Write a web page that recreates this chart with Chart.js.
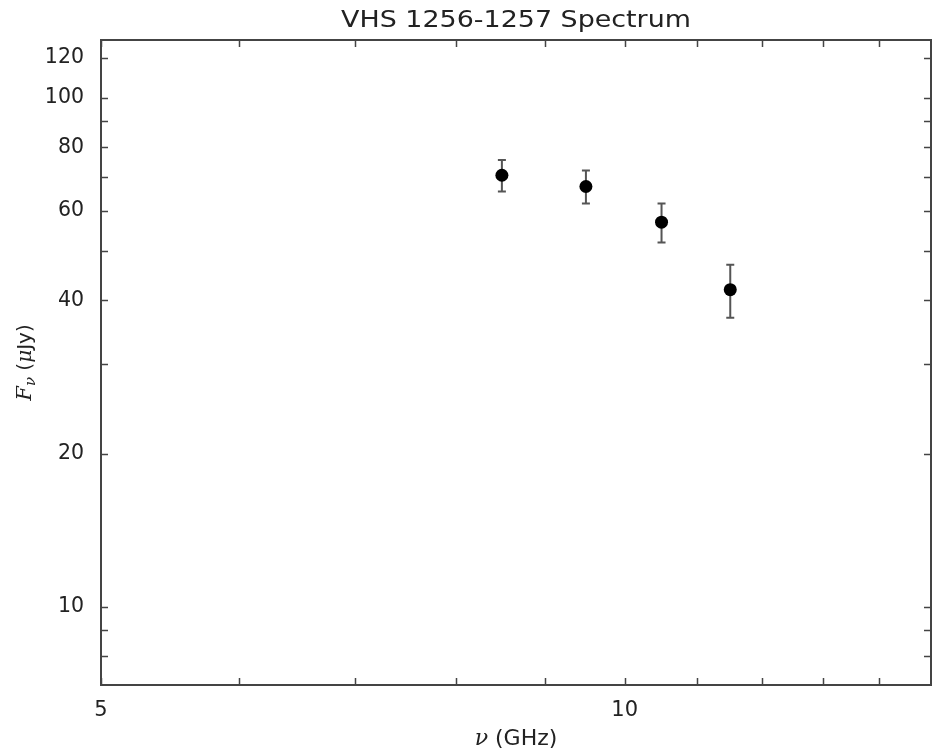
<!DOCTYPE html>
<html><head><meta charset="utf-8">
<script src="https://cdn.jsdelivr.net/npm/chart.js@4"></script>
<style>html,body{margin:0;padding:0;background:#fff;overflow:hidden}#wrap{width:932px;height:749px}</style>
</head><body><div id="wrap"><canvas id="c" width="932" height="749"></canvas></div>
<script>
// ---- data ----
const freqGHz = [8.5, 9.5, 10.5, 11.5];
const fluxMicroJy = [70.5, 67, 57, 42];
const fluxErr = [5, 5, 5, 5];
const xTickValues = [5, 6, 7, 8, 9, 10, 11, 12, 13, 14];
const xTickLabels = ['5', '', '', '', '', '10', '', '', '', ''];
const yTickValues = [8, 9, 10, 20, 30, 40, 50, 60, 70, 80, 90, 100, 120];
const yTickLabels = ['', '', '10', '20', '', '40', '', '60', '', '80', '', '100', '120'];
const titleText = 'VHS 1256-1257 Spectrum';

const TXT = '#222';
const AX = '#444';
const SANS = 'DejaVu Sans';

const framePlugin = {
  id: 'frame',
  beforeDatasetsDraw(chart) {
    const {ctx} = chart;
    const xs = chart.scales.x, ys = chart.scales.y;
    ctx.save();
    ctx.strokeStyle = '#555';
    ctx.lineWidth = 2;
    freqGHz.forEach((f, i) => {
      const px = xs.getPixelForValue(f);
      const top = ys.getPixelForValue(fluxMicroJy[i] + fluxErr[i]);
      const bot = ys.getPixelForValue(fluxMicroJy[i] - fluxErr[i]);
      ctx.beginPath();
      ctx.moveTo(px, top); ctx.lineTo(px, bot);
      ctx.moveTo(px - 4, top); ctx.lineTo(px + 4, top);
      ctx.moveTo(px - 4, bot); ctx.lineTo(px + 4, bot);
      ctx.stroke();
    });
    ctx.restore();
  },
  afterDraw(chart) {
    const {ctx, chartArea: a} = chart;
    const xs = chart.scales.x, ys = chart.scales.y;
    const L = 7;
    ctx.save();
    ctx.strokeStyle = AX;
    ctx.lineWidth = 1.5;
    ctx.beginPath();
    xTickValues.forEach(v => {
      const px = Math.round(xs.getPixelForValue(v)) + 0.5;
      ctx.moveTo(px, a.bottom); ctx.lineTo(px, a.bottom - L);
      ctx.moveTo(px, a.top); ctx.lineTo(px, a.top + L);
    });
    yTickValues.forEach(v => {
      const py = Math.round(ys.getPixelForValue(v)) + 0.5;
      ctx.moveTo(a.left, py); ctx.lineTo(a.left + L, py);
      ctx.moveTo(a.right, py); ctx.lineTo(a.right - L, py);
    });
    ctx.stroke();
    ctx.lineWidth = 2;
    ctx.strokeRect(a.left, a.top, a.right - a.left, a.bottom - a.top);

    const cx = (a.left + a.right) / 2;
    ctx.fillStyle = TXT;
    ctx.textBaseline = 'middle';

    // title (slightly wide lettering as in the reference)
    ctx.save();
    ctx.font = '23px ' + SANS;
    ctx.textAlign = 'center';
    ctx.translate(cx, 21);
    ctx.scale(1.17, 1);
    ctx.fillText(titleText, 0, 0);
    ctx.restore();

    // x axis title
    const f1 = 'italic 22px "DejaVu Serif"', f2 = '22px ' + SANS;
    ctx.font = f1; const w1 = ctx.measureText('\u03BD').width;
    ctx.font = f2; const w2 = ctx.measureText(' (GHz)').width;
    let x0 = cx - (w1 + w2) / 2;
    ctx.textAlign = 'left';
    ctx.font = f1; ctx.fillText('\u03BD', x0, 739);
    ctx.font = f2; ctx.fillText(' (GHz)', x0 + w1, 739);

    // y axis title
    ctx.translate(26, (a.top + a.bottom) / 2);
    ctx.rotate(-Math.PI / 2);
    const parts = [
      ['F', 'italic 21px "DejaVu Serif"', 0],
      ['\u03BD', 'italic 15px "DejaVu Serif"', 5],
      [' (', '20px ' + SANS, 0],
      ['\u03BC', 'italic 20px "DejaVu Serif"', 0],
      ['Jy)', '20px ' + SANS, 0]
    ];
    let tw = 0;
    parts.forEach(p => { ctx.font = p[1]; p.push(ctx.measureText(p[0]).width); tw += p[3]; });
    let xx = -tw / 2;
    parts.forEach(p => { ctx.font = p[1]; ctx.fillText(p[0], xx, p[2]); xx += p[3]; });
    ctx.restore();
  }
};

new Chart(document.getElementById('c').getContext('2d'), {
  type: 'scatter',
  data: {
    datasets: [{
      data: freqGHz.map((x, i) => ({x: x, y: fluxMicroJy[i]})),
      backgroundColor: '#000',
      borderColor: '#000',
      pointRadius: 6.5,
      pointHoverRadius: 6.5,
      borderWidth: 0
    }]
  },
  options: {
    responsive: false,
    animation: false,
    events: [],
    layout: {autoPadding: false, padding: {top: 40, right: 1, bottom: 0, left: 0}},
    plugins: {
      legend: {display: false},
      tooltip: {enabled: false},
      title: {display: false}
    },
    scales: {
      x: {
        type: 'logarithmic', min: 5, max: 15,
        afterBuildTicks: s => { s.ticks = xTickValues.map(v => ({value: v})); },
        ticks: {
          callback: (v, i) => xTickLabels[i],
          autoSkip: false, maxRotation: 0, padding: 5, color: TXT,
          font: {family: SANS, size: 21}
        },
        grid: {display: false},
        border: {display: false},
        afterFit: s => { s.height = 64; s.paddingLeft = 0; s.paddingRight = 0; }
      },
      y: {
        type: 'logarithmic', min: 7.02, max: 130,
        afterBuildTicks: s => { s.ticks = yTickValues.map(v => ({value: v})); },
        ticks: {
          callback: (v, i) => yTickLabels[i],
          autoSkip: false, padding: 9, color: TXT,
          font: {family: SANS, size: 20.5}
        },
        grid: {display: false},
        border: {display: false},
        afterFit: s => { s.width = 101; s.paddingTop = 0; s.paddingBottom = 0; }
      }
    }
  },
  plugins: [framePlugin]
});
</script>
</body></html>
